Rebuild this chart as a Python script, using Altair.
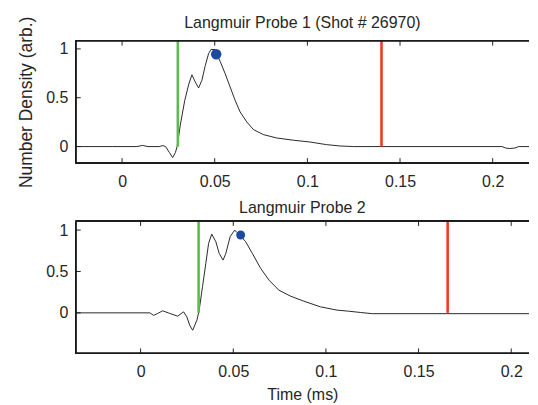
import altair as alt
import pandas as pd

# ---------------- data ----------------
xticks = [0, 0.05, 0.1, 0.15, 0.2]
yticks = [0, 0.5, 1]

# Probe 1 trace (time in ms, normalised density)
t1 = [-0.025, -0.005, 0.008, 0.011, 0.014, 0.020, 0.022, 0.0235, 0.0255, 0.0273,
      0.0288, 0.0297, 0.0315, 0.0338, 0.036, 0.0377, 0.0395, 0.0413, 0.0431,
      0.0449, 0.0467, 0.048, 0.0502, 0.0515, 0.053, 0.0556, 0.0583, 0.061,
      0.0637, 0.0673, 0.0709, 0.0762, 0.0834, 0.0924, 0.1013, 0.1103, 0.1175,
      0.125, 0.205, 0.207, 0.209, 0.212, 0.214, 0.225]
v1 = [0.0, 0.0, 0.0, 0.012, 0.0, 0.0, 0.01, 0.0, -0.06, -0.113,
      -0.06, 0.0, 0.23, 0.47, 0.64, 0.735, 0.662, 0.60, 0.68,
      0.83, 0.953, 0.994, 0.994, 0.93, 0.87, 0.748, 0.611, 0.474,
      0.355, 0.252, 0.174, 0.123, 0.088, 0.065, 0.047, 0.02, 0.006,
      0.0, 0.0, -0.015, -0.02, -0.015, 0.0, 0.0]

# Probe 2 trace
t2 = [-0.035, 0.005, 0.007, 0.009, 0.0119, 0.0155, 0.020, 0.0232, 0.025, 0.0265,
      0.0281, 0.0304, 0.0316, 0.0334, 0.0352, 0.0367, 0.0384, 0.0406, 0.0424,
      0.0445, 0.046, 0.0483, 0.0508, 0.052, 0.054, 0.0567, 0.0603, 0.0648,
      0.0693, 0.0746, 0.0809, 0.0881, 0.097, 0.106, 0.1123, 0.1185, 0.125, 0.215]
v2 = [0.0, 0.0, -0.03, -0.01, 0.025, -0.005, -0.04, 0.012, -0.05, -0.15,
      -0.21, -0.088, 0.03, 0.315, 0.597, 0.839, 0.951, 0.859, 0.718,
      0.637, 0.718, 0.919, 1.0, 0.97, 0.93, 0.859, 0.718, 0.537,
      0.395, 0.274, 0.202, 0.141, 0.073, 0.033, 0.02, 0.005, -0.01, -0.01]

# markers: peak dot, start (green) and end (red) times
dot1 = (0.0508, 0.946)
dot2 = (0.054, 0.94)
green1, red1 = 0.0301, 0.140
green2, red2 = 0.0313, 0.1657

# visible x range (the right border lies just outside the picture)
xdom1 = [-0.025, 0.2196]
xdom2 = [-0.035, 0.2096]
ydom1 = [-0.17, 1.085]
ydom2 = [-0.49, 1.11]

W = 455
H1 = 123
H2 = 133
TICK = 5
FONT = "Liberation Sans"
TXT = "#262626"
FRAME = "#1a1a1a"


def panel(t, v, dot, green, red, xdom, ydom, h, title, toff, ytitle, xtitle):
    xs = alt.Scale(domain=xdom, nice=False, zero=False)
    ys = alt.Scale(domain=ydom, nice=False, zero=False)
    xkw = dict(values=xticks, format="~g", tickSize=0, domain=False,
               grid=False, labelPadding=10, titlePadding=7)
    xkw["title"] = xtitle if xtitle else None
    ykw = dict(values=yticks, format="~g", tickSize=0, domain=False,
               grid=False, labelPadding=8, titlePadding=10, titleFontSize=17.5)
    ykw["title"] = ytitle if ytitle else None
    xaxis = alt.Axis(**xkw)
    yaxis = alt.Axis(**ykw)

    trace = pd.DataFrame({"t": t, "v": v})
    line = alt.Chart(trace).mark_line(color="#2a2a2a", strokeWidth=1,
                                      clip=True).encode(
        x=alt.X("t:Q", scale=xs, axis=xaxis),
        y=alt.Y("v:Q", scale=ys, axis=yaxis),
    )

    vl = pd.DataFrame({"t": [green, red], "y0": [0, 0], "y1": [ydom[1], ydom[1]],
                       "c": ["#5cbd4a", "#f23a26"]})
    vlines = alt.Chart(vl).mark_rule(strokeWidth=2.6).encode(
        x=alt.X("t:Q", scale=xs, axis=xaxis),
        y=alt.Y("y0:Q", scale=ys, axis=yaxis),
        y2="y1:Q",
        color=alt.Color("c:N", scale=None),
    )

    dd = pd.DataFrame({"t": [dot[0]], "v": [dot[1]]})
    dotmark = alt.Chart(dd).mark_point(filled=True, opacity=1, color="#1c4a9e",
                                       size=110 if h < 128 else 80).encode(
        x=alt.X("t:Q", scale=xs, axis=xaxis),
        y=alt.Y("v:Q", scale=ys, axis=yaxis),
    )

    xt = pd.DataFrame({"t": xticks})
    yt = pd.DataFrame({"v": yticks})
    tb = alt.Chart(xt).mark_rule(color="#222", strokeWidth=1).encode(
        x=alt.X("t:Q", scale=xs, axis=xaxis),
        y=alt.value(h), y2=alt.value(h - TICK))
    tt = alt.Chart(xt).mark_rule(color="#222", strokeWidth=1).encode(
        x=alt.X("t:Q", scale=xs, axis=xaxis),
        y=alt.value(0), y2=alt.value(TICK))
    tl = alt.Chart(yt).mark_rule(color="#222", strokeWidth=1).encode(
        y=alt.Y("v:Q", scale=ys, axis=yaxis),
        x=alt.value(0), x2=alt.value(TICK))

    # frame: left, top and bottom edges (right edge lies outside the picture)
    fl = alt.Chart(xt).mark_rule(color=FRAME, strokeWidth=1.2).encode(
        x=alt.value(0), y=alt.value(0), y2=alt.value(h))
    ft = alt.Chart(xt).mark_rule(color=FRAME, strokeWidth=1.2).encode(
        y=alt.value(0), x=alt.value(0), x2=alt.value(W))
    fb = alt.Chart(xt).mark_rule(color=FRAME, strokeWidth=1.2).encode(
        y=alt.value(h), x=alt.value(0), x2=alt.value(W))

    return alt.layer(line, vlines, dotmark, tb, tt, tl, fl, ft, fb).properties(
        width=W, height=h,
        title=alt.TitleParams(title, offset=toff, frame="group"),
    )


top = panel(t1, v1, dot1, green1, red1, xdom1, ydom1, H1,
            "Langmuir Probe 1 (Shot # 26970)", -15, "Number Density (arb.)", None)
bottom = panel(t2, v2, dot2, green2, red2, xdom2, ydom2, H2,
               "Langmuir Probe 2", 4, None, "Time (ms)")

chart = alt.vconcat(top, bottom, spacing=10).properties(
    padding={"left": 9, "top": 6, "right": 0, "bottom": 0}
).configure_view(
    stroke=None
).configure_axis(
    labelFont=FONT, titleFont=FONT, labelFontSize=16, titleFontSize=16,
    titleFontWeight="normal", labelColor=TXT, titleColor=TXT,
).configure_title(
    font=FONT, fontSize=16, fontWeight="normal", color=TXT,
    anchor="middle",
)

chart.save("out.html", embed_options={"renderer": "svg", "actions": False})
